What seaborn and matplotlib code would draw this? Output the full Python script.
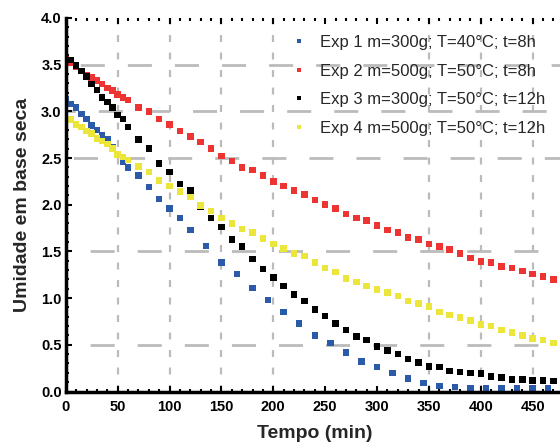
import numpy as np
import pandas as pd
import matplotlib
matplotlib.use("Agg")
import matplotlib.pyplot as plt
import seaborn as sns
from matplotlib.ticker import MultipleLocator

# ---------------- data ----------------
series_labels = [
    "Exp 1 m=300g; T=40°C; t=8h",
    "Exp 2 m=500g; T=50°C; t=8h",
    "Exp 3 m=300g; T=50°C; t=12h",
    "Exp 4 m=500g; T=50°C; t=12h",
]
series_colors = ["#2b5ba8", "#ee3333", "#000000", "#ece63a"]

t_exp1 = [0, 5, 10, 15, 20, 25, 30, 35, 40, 45, 50, 55, 60, 70, 80, 90, 100, 110,
          120, 135, 150, 165, 180, 195, 210, 225, 240, 255, 270, 285, 300, 315, 330,
          345, 360, 375, 390, 405, 420, 435, 450, 465]
u_exp1 = [3.13, 3.08, 3.04, 2.97, 2.92, 2.85, 2.80, 2.74, 2.70, 2.62, 2.54, 2.46, 2.40,
          2.31, 2.19, 2.06, 1.96, 1.86,
          1.73, 1.56, 1.38, 1.26, 1.11, 0.98, 0.85, 0.73, 0.60, 0.52, 0.42, 0.32, 0.26,
          0.20, 0.14, 0.09, 0.06, 0.05, 0.04, 0.04, 0.04, 0.04, 0.04, 0.03]

t_exp2 = [0, 5, 10, 15, 20, 25, 30, 35, 40, 45, 50, 55, 60, 70, 80, 90, 100, 110, 120,
          130, 140, 150, 160, 170, 180, 190, 200, 210, 220, 230, 240, 250, 260, 270, 280,
          290, 300, 310, 320, 330, 340, 350, 360, 370, 380, 390, 400, 410, 420, 430, 440,
          450, 460, 470]
u_exp2 = [3.56, 3.52, 3.48, 3.43, 3.39, 3.36, 3.33, 3.29, 3.25, 3.22, 3.18, 3.15, 3.12,
          3.04, 3.00, 2.92, 2.86, 2.79, 2.73, 2.67, 2.60, 2.52, 2.47, 2.40, 2.37, 2.31,
          2.25, 2.20, 2.15, 2.11, 2.05, 2.00, 1.96, 1.90, 1.86, 1.83, 1.78, 1.73, 1.70,
          1.65, 1.63, 1.58, 1.55, 1.52, 1.48, 1.43, 1.39, 1.38, 1.34, 1.32, 1.29, 1.26,
          1.23, 1.20]

t_exp3 = [5, 10, 15, 20, 25, 30, 35, 40, 45, 50, 55, 60, 70, 80, 90, 100, 110, 120,
          130, 140, 150, 160, 170, 180, 190, 200, 210, 220, 230, 240, 250, 260, 270, 280,
          290, 300, 310, 320, 330, 340, 350, 360, 370, 380, 390, 400, 410, 420, 430, 440,
          450, 460, 470]
u_exp3 = [3.55, 3.49, 3.43, 3.37, 3.29, 3.23, 3.15, 3.10, 3.04, 2.96, 2.92, 2.83, 2.70,
          2.60, 2.44, 2.35, 2.22, 2.15, 1.98, 1.86, 1.76, 1.63, 1.55, 1.42, 1.31, 1.22,
          1.13, 1.04, 0.97, 0.88, 0.81, 0.73, 0.66, 0.59, 0.55, 0.48, 0.44, 0.40, 0.35,
          0.31, 0.27, 0.26, 0.22, 0.21, 0.20, 0.19, 0.16, 0.15, 0.13, 0.13, 0.12, 0.12,
          0.11]

t_exp4 = [5, 10, 15, 20, 25, 30, 35, 40, 45, 50, 55, 60, 70, 80, 90, 100, 110, 120,
          130, 140, 150, 160, 170, 180, 190, 200, 210, 220, 230, 240, 250, 260, 270, 280,
          290, 300, 310, 320, 330, 340, 350, 360, 370, 380, 390, 400, 410, 420, 430, 440,
          450, 460, 470]
u_exp4 = [2.91, 2.86, 2.83, 2.79, 2.76, 2.71, 2.68, 2.65, 2.60, 2.54, 2.51, 2.48, 2.41,
          2.35, 2.26, 2.20, 2.14, 2.08, 1.99, 1.93, 1.86, 1.80, 1.74, 1.70, 1.64, 1.58,
          1.53, 1.48, 1.45, 1.38, 1.32, 1.28, 1.21, 1.17, 1.13, 1.09, 1.06, 1.02, 0.97,
          0.94, 0.91, 0.85, 0.82, 0.79, 0.76, 0.72, 0.70, 0.66, 0.63, 0.60, 0.57, 0.55,
          0.52]

x_ticks = [0, 50, 100, 150, 200, 250, 300, 350, 400, 450]
y_ticks = [0.0, 0.5, 1.0, 1.5, 2.0, 2.5, 3.0, 3.5, 4.0]
x_label = "Tempo (min)"
y_label = "Umidade em base seca"

# ---------------- style ----------------
sns.set_style("ticks")
plt.rcParams["font.family"] = ["Liberation Sans", "DejaVu Sans"]
plt.rcParams["lines.scale_dashes"] = False

frames = []
for lab, t, u in zip(series_labels, [t_exp1, t_exp2, t_exp3, t_exp4],
                     [u_exp1, u_exp2, u_exp3, u_exp4]):
    frames.append(pd.DataFrame({"Tempo": t, "Umidade": u, "Serie": lab}))
df = pd.concat(frames, ignore_index=True)

fig = plt.figure(figsize=(5.6, 4.48), dpi=100)
ax = fig.add_axes([65.8 / 560, (448 - 391.5) / 448, 498 / 560, 373.6 / 448])

# grid (dashed, grey) drawn below the points
grid_c = "#bbbbbb"
for xv in [50, 100, 150, 200, 350, 400, 450]:
    ax.axvline(xv, color=grid_c, lw=1.6, linestyle=(0, (5.0, 7.6)), zorder=0.5)
for yv, ph in [(0.5, 16.5), (1.5, 16.5), (2.5, 28.5), (3.0, 10.6), (3.5, 23.6)]:
    ax.axhline(yv, color=grid_c, lw=2.0, linestyle=(ph, (17.3, 16.6)), zorder=0.5)

sns.scatterplot(data=df, x="Tempo", y="Umidade", hue="Serie", hue_order=series_labels,
                palette=series_colors, marker="s", s=22, linewidth=0, ax=ax,
                zorder=1)

ax.set_xlim(0, 480)
ax.set_ylim(0, 4.0)
ax.set_xticks(x_ticks)
ax.set_xticklabels([str(v) for v in x_ticks])
ax.set_yticks(y_ticks)
ax.set_yticklabels([f"{v:.1f}" for v in y_ticks])
ax.xaxis.set_minor_locator(MultipleLocator(10))
ax.yaxis.set_minor_locator(MultipleLocator(0.1))
ax.tick_params(which="both", direction="in", top=True, bottom=True, left=True,
               right=False, width=1.5, colors="black")
ax.tick_params(which="major", length=4)
ax.tick_params(which="minor", length=2.5)
ax.tick_params(axis="x", which="major", pad=6, labelsize=10.5)
ax.tick_params(axis="y", which="major", pad=3, labelsize=10.5)
for lbl in ax.get_xticklabels() + ax.get_yticklabels():
    lbl.set_fontweight("bold")

for side in ["top", "right"]:
    ax.spines[side].set_visible(False)
for side in ["left", "bottom"]:
    ax.spines[side].set_linewidth(2.5)
    ax.spines[side].set_color("black")

ax.set_xlabel(x_label, fontsize=14, fontweight="bold", labelpad=8)
ax.set_ylabel(y_label, fontsize=14, fontweight="bold", labelpad=7)

handles, lbls = ax.get_legend_handles_labels()
leg = ax.legend(handles, lbls, loc="upper left",
                bbox_to_anchor=(292 / 560, (448 - 35) / 448),
                bbox_transform=fig.transFigure, frameon=False, fontsize=12,
                handlelength=0.8, handletextpad=0.86, labelspacing=0.82,
                borderpad=0, borderaxespad=0, markerscale=0.75)

fig.savefig("out.png", dpi=100)
